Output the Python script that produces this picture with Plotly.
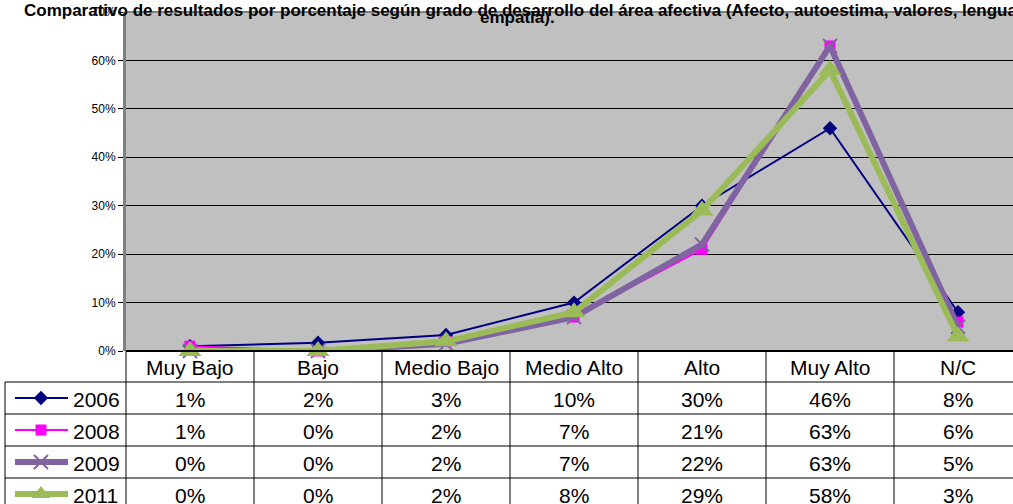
import plotly.graph_objects as go

categories = ["Muy Bajo", "Bajo", "Medio Bajo", "Medio Alto", "Alto", "Muy Alto", "N/C"]
years = ["2006", "2008", "2009", "2011"]
v2006 = [0.01, 0.017, 0.033, 0.10, 0.30, 0.46, 0.08]
v2008 = [0.01, 0.0, 0.02, 0.07, 0.21, 0.63, 0.06]
v2009 = [0.0, 0.0, 0.015, 0.07, 0.22, 0.63, 0.05]
v2011 = [0.0, 0.0, 0.02, 0.08, 0.29, 0.58, 0.03]
labels2006 = ["1%", "2%", "3%", "10%", "30%", "46%", "8%"]
labels2008 = ["1%", "0%", "2%", "7%", "21%", "63%", "6%"]
labels2009 = ["0%", "0%", "2%", "7%", "22%", "63%", "5%"]
labels2011 = ["0%", "0%", "2%", "8%", "29%", "58%", "3%"]
title_line1 = "Comparativo de resultados por porcentaje según grado de desarrollo del área afectiva (Afecto, autoestima, valores, lenguaje,"
title_line2 = "empatia)."

series = [v2006, v2008, v2009, v2011]
table_labels = [labels2006, labels2008, labels2009, labels2011]
styles = [
    dict(color="#000080", width=2, symbol="diamond", msize=11, mline=0),
    dict(color="#FF00FF", width=2, symbol="square", msize=11, mline=0),
    dict(color="#8064A2", width=6, symbol="x-thin", msize=14, mline=2),
    dict(color="#9BBB59", width=6, symbol="triangle-up", msize=20, mline=0),
]

W, H = 1013, 504
PL, PT, PB = 126, 12, 351
COLW = 128
FONT = "Arial, Liberation Sans, sans-serif"
TFS = 21

fig = go.Figure()
for name, vals, st in zip(years, series, styles):
    fig.add_trace(go.Scatter(
        x=list(range(len(categories))), y=vals, name=name, mode="lines+markers",
        line=dict(color=st["color"], width=st["width"]),
        marker=dict(symbol=st["symbol"], size=st["msize"], color=st["color"],
                    line=dict(color=st["color"], width=st["mline"])),
        cliponaxis=False, showlegend=False, xaxis="x", yaxis="y"))

# legend glyphs in the table's left column (overlay pixel axes)
row_tops = [382, 414, 446, 478]
for k, (name, st) in enumerate(zip(years, styles)):
    yc = row_tops[k] + 16
    fig.add_trace(go.Scatter(
        x=[15, 68], y=[yc, yc], mode="lines", line=dict(color=st["color"], width=st["width"]),
        showlegend=False, xaxis="x2", yaxis="y2", hoverinfo="skip"))
    fig.add_trace(go.Scatter(
        x=[41], y=[yc], mode="markers",
        marker=dict(symbol=st["symbol"], size=min(st["msize"], 16), color=st["color"],
                    line=dict(color=st["color"], width=st["mline"])),
        showlegend=False, xaxis="x2", yaxis="y2", hoverinfo="skip", cliponaxis=False))

shapes = []
shapes.append(dict(type="rect", xref="x domain", yref="y domain", x0=0, x1=1, y0=0, y1=1,
                   fillcolor="#C0C0C0", line=dict(width=0), layer="below"))
line_blk = dict(color="black", width=1)
ncol = len(categories)
right = PL + COLW * ncol
shapes.append(dict(type="line", xref="x2", yref="y2", x0=PL, x1=right, y0=PB, y1=PB, line=dict(color="black", width=2)))
for yt in row_tops:
    shapes.append(dict(type="line", xref="x2", yref="y2", x0=5, x1=right, y0=yt, y1=yt, line=line_blk))
shapes.append(dict(type="line", xref="x2", yref="y2", x0=5, x1=5, y0=row_tops[0], y1=H + 5, line=line_blk))
for i in range(ncol + 1):
    xv = PL + COLW * i
    shapes.append(dict(type="line", xref="x2", yref="y2", x0=xv, x1=xv, y0=PB, y1=H + 5, line=line_blk))
shapes.append(dict(type="line", xref="x2", yref="y2", x0=PL, x1=W, y0=PT, y1=PT, line=dict(color="#808080", width=2)))

annotations = []
for i, cat in enumerate(categories):
    xc = PL + COLW * (i + 0.5)
    annotations.append(dict(x=xc, y=367, xref="x2", yref="y2", text=cat, showarrow=False,
                            font=dict(family=FONT, size=TFS, color="black")))
    for k, labs in enumerate(table_labels):
        annotations.append(dict(x=xc, y=row_tops[k] + 17, xref="x2", yref="y2", text=labs[i], showarrow=False,
                                font=dict(family=FONT, size=TFS, color="black")))
for k, name in enumerate(years):
    annotations.append(dict(x=71, y=row_tops[k] + 17, xref="x2", yref="y2", text=name, showarrow=False,
                            xanchor="left", font=dict(family=FONT, size=TFS, color="black")))
annotations.append(dict(x=530 / W, y=1 + 1 / H, xref="paper", yref="paper", text="<b>" + title_line1 + "</b>",
                        showarrow=False, font=dict(family=FONT, size=17, color="black")))
annotations.append(dict(x=517, y=17, xref="x2", yref="y2", text="<b>" + title_line2 + "</b>", showarrow=False,
                        font=dict(family=FONT, size=17, color="black")))

fig.update_layout(
    width=W, height=H, margin=dict(l=0, r=0, t=0, b=0, pad=0, autoexpand=False),
    paper_bgcolor="white", plot_bgcolor="rgba(0,0,0,0)",
    xaxis=dict(domain=[PL / W, 1], range=[-0.5, -0.5 + (W - PL) / COLW], showticklabels=False,
               showgrid=False, zeroline=False, showline=False, ticks="", anchor="y"),
    yaxis=dict(domain=[(H - PB) / H, (H - PT) / H], range=[0, 0.7], dtick=0.1, tickformat=".0%",
               showgrid=True, gridcolor="black", gridwidth=1, zeroline=False,
               showline=True, linecolor="#808080", linewidth=3, ticks="outside", ticklen=5,
               tickcolor="black", tickfont=dict(family=FONT, size=12, color="black"), anchor="x"),
    xaxis2=dict(domain=[0, 1], range=[0, W], visible=False, anchor="y2"),
    yaxis2=dict(domain=[0, 1], range=[H, 0], visible=False, anchor="x2"),
    shapes=shapes, annotations=annotations,
)
fig.write_html("out.html", post_script="document.body.style.margin='0';", config={"displayModeBar": False})
